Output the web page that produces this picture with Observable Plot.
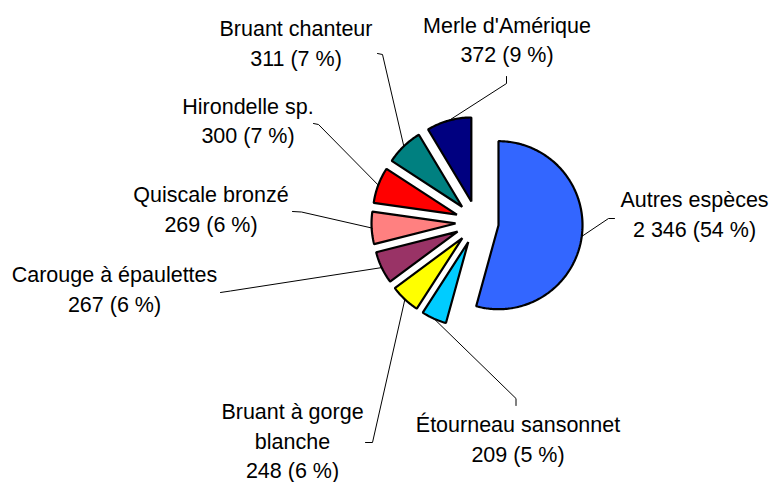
<!DOCTYPE html>
<html><head><meta charset="utf-8">
<script src="https://cdn.jsdelivr.net/npm/d3@7"></script>
<script src="https://cdn.jsdelivr.net/npm/@observablehq/plot@0.6"></script>
<style>body{margin:0;background:#fff}</style>
</head><body><div id="chart"></div>
<script>
// ---- data ----
const species = ["Autres espèces", "Étourneau sansonnet", "Bruant à gorge\nblanche", "Carouge à épaulettes", "Quiscale bronzé", "Hirondelle sp.", "Bruant chanteur", "Merle d'Amérique"];
const counts = [2346, 209, 248, 267, 269, 300, 311, 372];
const colors = ["#3366FF", "#00CCFF", "#FFFF00", "#993366", "#FF8080", "#FF0000", "#008080", "#000080"];

// ---- layout (label placement, leader lines) ----
const labelX = [694, 517.5, 292, 114, 210.5, 247.5, 295.5, 506.5];
const labelTop = [186, 411, 398, 261, 181, 92.5, 15, 11.5];
const leaderEnd = [[614,218],[515.5,405],[365,442],[220,292],[292,211],[313,123],[377,53],[506,76]];
const leaderElbow = [[608,218],[515.5,398],[372,442],[230,290.5],[301,211.5],[318,124],[382,54],[506,83]];
const W = 773, H = 482, cx = 476.6, cy = 221.8, R = 84, EXPLODE = 21.6;

const total = d3.sum(counts);
const fmt = d3.formatLocale({decimal: ",", thousands: " ", grouping: [3], currency: ["", " €"]}).format(",d");
const arcs = d3.pie().sort(null).value(d => d)(counts);

const slicePts = [];
const leaderPts = [];
const labels = [];
arcs.forEach((a, i) => {
  const mid = (a.startAngle + a.endAngle) / 2;
  const vx = cx + EXPLODE * Math.sin(mid), vy = cy - EXPLODE * Math.cos(mid);
  slicePts.push({i, x: vx, y: vy, color: colors[i]});
  const n = Math.max(2, Math.ceil((a.endAngle - a.startAngle) / (Math.PI / 180)));
  for (let k = 0; k <= n; k++) {
    const t = a.startAngle + (a.endAngle - a.startAngle) * k / n;
    slicePts.push({i, x: vx + R * Math.sin(t), y: vy - R * Math.cos(t), color: colors[i]});
  }
  leaderPts.push({i, x: leaderEnd[i][0], y: leaderEnd[i][1]});
  leaderPts.push({i, x: leaderElbow[i][0], y: leaderElbow[i][1]});
  leaderPts.push({i, x: vx + R * Math.sin(mid), y: vy - R * Math.cos(mid)});
  labels.push({
    x: labelX[i], y: labelTop[i],
    text: species[i] + "\n" + fmt(counts[i]) + " (" + Math.round(counts[i] / total * 100) + " %)"
  });
});

const chart = Plot.plot({
  width: W, height: H,
  margin: 0,
  x: {domain: [0, W], range: [0, W], axis: null},
  y: {domain: [0, H], range: [0, H], axis: null},
  color: {type: "identity"},
  style: {background: "#fff", fontFamily: "'Liberation Sans', Arial, sans-serif", overflow: "visible"},
  marks: [
    Plot.line(leaderPts, {x: "x", y: "y", z: "i", stroke: "#000", strokeWidth: 1, curve: "linear"}),
    Plot.line(slicePts, {x: "x", y: "y", z: "i", fill: "color", stroke: "#000", strokeWidth: 2.2, strokeLinejoin: "miter", curve: "linear-closed"}),
    Plot.text(labels, {x: "x", y: "y", text: "text", textAnchor: "middle", lineAnchor: "top", lineHeight: 1.36, fontSize: 21.5, fill: "#000", fontFamily: "'Liberation Sans', Arial, sans-serif"})
  ]
});
document.getElementById("chart").appendChild(chart);
</script>
</body></html>
